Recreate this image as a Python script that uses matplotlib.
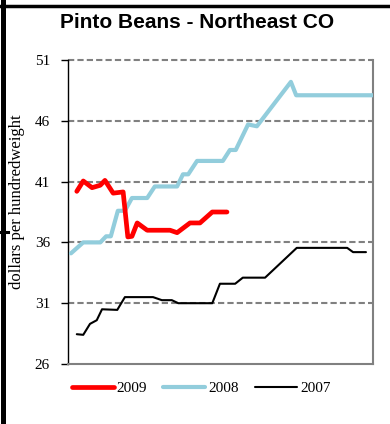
import matplotlib
matplotlib.use("Agg")
import matplotlib.pyplot as plt
from matplotlib.lines import Line2D

# ── data (week of marketing year, $/cwt) ─────────────────────────────────────
weeks_2009 = [1.5, 2.6, 4.1, 5.5, 6.3, 7.7, 9.4, 10.2, 10.9, 11.8, 13.5,
              17.4, 18.6, 20.8, 22.5, 24.6, 27.1]
price_2009 = [40.2, 41.05, 40.5, 40.7, 41.1, 40.05, 40.15, 36.45, 36.5, 37.6,
              37.0, 37.0, 36.8, 37.6, 37.6, 38.5, 38.5]

weeks_2008 = [0.5, 2.6, 5.5, 6.5, 7.3, 8.5, 9.7, 10.9, 13.5, 14.8, 18.6, 19.6,
              20.5, 22.0, 26.4, 27.6, 28.6, 30.7, 32.2, 38.0, 38.9, 52.0]
price_2008 = [35.1, 36.0, 36.0, 36.5, 36.5, 38.6, 38.6, 39.65, 39.65, 40.6,
              40.6, 41.6, 41.6, 42.7, 42.7, 43.6, 43.6, 45.7, 45.55, 49.2,
              48.1, 48.1]

weeks_2007 = [1.5, 2.6, 3.75, 4.9, 5.8, 8.4, 9.7, 14.5, 16.0, 17.7, 18.8,
              24.6, 25.9, 28.5, 29.8, 33.6, 39.0, 47.6, 48.6, 50.8]
price_2007 = [28.45, 28.4, 29.3, 29.6, 30.5, 30.45, 31.5, 31.5, 31.25, 31.25,
              31.0, 31.0, 32.6, 32.6, 33.1, 33.1, 35.55, 35.55, 35.2, 35.2]

y_ticks = [26, 31, 36, 41, 46, 51]

# ── figure ───────────────────────────────────────────────────────────────────
fig = plt.figure(figsize=(3.9, 4.24), dpi=100)
ax = fig.add_axes([68 / 390, 60 / 424, 305 / 390, 304 / 424])

serif = "Liberation Serif"

for y in y_ticks[1:]:
    ax.axhline(y, color="#808080", lw=1.5, ls=(0, (3, 1.5)), zorder=1,
               clip_on=False)

ax.plot(weeks_2007, price_2007, color="black", lw=1.5, label="2007",
        solid_joinstyle="round", solid_capstyle="round", zorder=3)
ax.plot(weeks_2008, price_2008, color="#92CDDC", lw=3.0, label="2008",
        solid_joinstyle="round", solid_capstyle="round", zorder=4)
ax.plot(weeks_2009, price_2009, color="#FF0000", lw=3.4, label="2009",
        solid_joinstyle="round", solid_capstyle="round", zorder=5)

ax.set_xlim(0, 52)
ax.set_ylim(26, 51)
ax.set_yticks(y_ticks)
ax.set_xticks([])
ax.tick_params(axis="y", direction="out", length=5, width=1, pad=8,
               labelsize=11)
for lab in ax.get_yticklabels():
    lab.set_fontfamily(serif)

ax.spines["top"].set_visible(False)
ax.spines["left"].set_color("black")
ax.spines["left"].set_linewidth(1.0)
for side in ("right", "bottom"):
    ax.spines[side].set_color("#808080")
    ax.spines[side].set_linewidth(1.5)

ax.set_ylabel("dollars per hundredweight", fontfamily=serif, fontsize=12,
              va="center")
ax.yaxis.set_label_coords(-0.167, 0.535)

fig.text(197 / 390, 1 - 22 / 424, "Pinto Beans - Northeast CO",
         ha="center", va="center", fontfamily="Liberation Sans",
         fontweight="bold", fontsize=15)

# legend order: 2009, 2008, 2007
h, l = ax.get_legend_handles_labels()
ax.legend(h[::-1], l[::-1], ncol=3, frameon=False,
          loc="center", bbox_to_anchor=(201 / 390, 1 - 388 / 424),
          bbox_transform=fig.transFigure, handlelength=2.75,
          handletextpad=0.2, columnspacing=1.05,
          prop={"family": serif, "size": 11})

# outer page border bits
fig.add_artist(Line2D([0, 1], [1 - 5.5 / 424] * 2, color="black", lw=2.5,
                      transform=fig.transFigure))
fig.add_artist(Line2D([2.5 / 390] * 2, [0, 1], color="black", lw=3.6,
                      transform=fig.transFigure))
fig.add_artist(Line2D([0, 8 / 390], [1 - 232 / 424] * 2, color="black",
                      lw=2.2, transform=fig.transFigure))

fig.savefig("out.png", dpi=100)
